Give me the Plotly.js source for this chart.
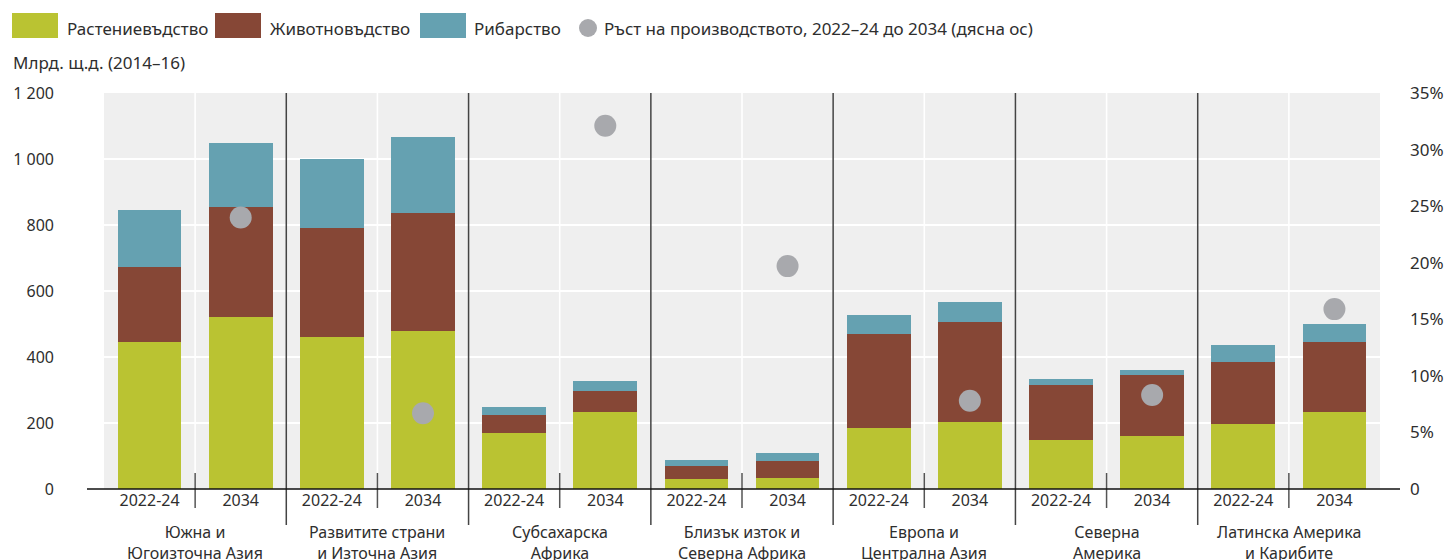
<!DOCTYPE html>
<html>
<head>
<meta charset="utf-8">
<script src="https://cdn.plot.ly/plotly-3.0.1.min.js"></script>
<style>html,body{margin:0;padding:0;background:#fff;}#chart{width:1448px;height:560px;}</style>
</head>
<body>
<div id="chart"></div>
<script>
// ---- data ----
const regions = [
  "Южна и<br>Югоизточна Азия",
  "Развитите страни<br>и Източна Азия",
  "Субсахарска<br>Африка",
  "Близък изток и<br>Северна Африка",
  "Европа и<br>Централна Азия",
  "Северна<br>Америка",
  "Латинска Америка<br>и Карибите"
];
const periods = ["2022-24", "2034"];
// billion USD (2014-16), order: region1 2022-24, region1 2034, region2 2022-24, ...
const crops     = [444, 520, 460, 480, 171, 232, 29, 32, 186, 202, 147, 162, 198, 232];
const livestock = [230, 336, 332, 355,  52,  66, 42, 54, 285, 305, 169, 182, 188, 212];
const fish      = [170, 194, 208, 233,  24,  28, 18, 22,  55,  61,  18,  18,  49,  57];
// production growth 2022-24 to 2034, % (right axis)
const growth    = [24.0, 6.7, 32.1, 19.7, 7.8, 8.3, 15.9];
const yTicks    = [0, 200, 400, 600, 800, 1000, 1200];
const y2Ticks   = [0, 5, 10, 15, 20, 25, 30, 35];
const y2Labels  = ["0", "5%", "10%", "15%", "20%", "25%", "30%", "35%"];
const seriesNames = ["Растениевъдство", "Животновъдство", "Рибарство",
                     "Ръст на производството, 2022–24 до 2034 (дясна ос)"];
const yUnit = "Млрд. щ.д. (2014–16)";

// ---- styling ----
const COLORS = {crops: "#BAC332", livestock: "#864736", fish: "#65A1B1", dot: "#A8A9AD"};
const FONT = "Noto Sans, Open Sans, sans-serif";
const TXT = "#2e2e2e";
const W = 1448, H = 560;
const M = {l: 104, r: 68, t: 93, b: 71};
const PW = W - M.l - M.r, PH = H - M.t - M.b;
const px = v => (v - M.l) / PW;          // pixel x -> paper
const py = v => (H - M.b - v) / PH;      // pixel y -> paper

const xPos = [], xLabels = [];
regions.forEach((r, i) => periods.forEach((p, j) => { xPos.push(i * periods.length + j); xLabels.push(p); }));
const dotX = regions.map((r, i) => i * periods.length + 1);

const barCommon = {type: "bar", x: xPos, width: 0.70, showlegend: false, hoverinfo: "y"};
const traces = [
  Object.assign({}, barCommon, {name: seriesNames[0], y: crops, marker: {color: COLORS.crops}}),
  Object.assign({}, barCommon, {name: seriesNames[1], y: livestock, marker: {color: COLORS.livestock}}),
  Object.assign({}, barCommon, {name: seriesNames[2], y: fish, marker: {color: COLORS.fish}}),
  {type: "scatter", mode: "markers", name: seriesNames[3], x: dotX, y: growth, yaxis: "y2",
   showlegend: false, marker: {color: COLORS.dot, size: 22}}
];

const shapes = [];
const annotations = [];
const nGroups = regions.length;
// white mid-group separators + short dark ticks
for (let i = 0; i < nGroups; i++) {
  const xm = i * 2 + 0.5;
  shapes.push({type: "line", xref: "x", yref: "paper", x0: xm, x1: xm, y0: 0, y1: 1,
               line: {color: "#ffffff", width: 1.6}, layer: "below"});
  shapes.push({type: "line", xref: "x", yref: "paper", x0: xm, x1: xm, y0: py(508), y1: py(473),
               line: {color: "#555555", width: 1.5}});
  annotations.push({xref: "x", yref: "paper", x: xm, y: py(519), yanchor: "top", xanchor: "center",
                    text: regions[i], showarrow: false, align: "center",
                    font: {family: FONT, size: 16, color: TXT}});
}
// group separators
for (let i = 1; i < nGroups; i++) {
  const xs = i * 2 - 0.5;
  shapes.push({type: "line", xref: "x", yref: "paper", x0: xs, x1: xs, y0: py(525), y1: 1,
               line: {color: "#444444", width: 1.5}});
}
// baseline
shapes.push({type: "line", xref: "paper", yref: "paper", x0: px(87), x1: px(1400), y0: 0, y1: 0,
             line: {color: "#111111", width: 1.5}});

// custom legend
const sq = [[12, 58], [215, 261], [420, 466]];
const sqColors = [COLORS.crops, COLORS.livestock, COLORS.fish];
const txtX = [65, 268, 472, 602];
sq.forEach((s, i) => {
  shapes.push({type: "rect", xref: "paper", yref: "paper", x0: px(s[0]), x1: px(s[1]), y0: py(38), y1: py(13),
               fillcolor: sqColors[i], line: {width: 0}});
});
shapes.push({type: "circle", xref: "paper", yref: "paper", x0: px(579), x1: px(597), y0: py(37), y1: py(19),
             fillcolor: COLORS.dot, line: {width: 0}});
seriesNames.forEach((n, i) => {
  annotations.push({xref: "paper", yref: "paper", x: px(txtX[i]), y: py(28), xanchor: "left", yanchor: "middle",
                    text: n, showarrow: false, font: {family: FONT, size: 17, color: TXT}});
});
annotations.push({xref: "paper", yref: "paper", x: px(11), y: py(62), xanchor: "left", yanchor: "middle",
                  text: yUnit, showarrow: false, font: {family: FONT, size: 17, color: TXT}});

const layout = {
  width: W, height: H,
  margin: M,
  paper_bgcolor: "#ffffff",
  plot_bgcolor: "#EFEFEF",
  barmode: "stack",
  separators: ", ",
  font: {family: FONT, size: 16, color: TXT},
  showlegend: false,
  xaxis: {range: [-0.5, 13.5], tickvals: xPos, ticktext: xLabels, showgrid: false, zeroline: false,
          showline: false, ticks: "", tickfont: {size: 16, color: TXT}, fixedrange: true},
  yaxis: {range: [0, 1200], tickvals: yTicks, separatethousands: true, showgrid: true, gridcolor: "#ffffff",
          gridwidth: 1.6, zeroline: false, showline: false, ticks: "", ticklabelstandoff: 49,
          tickfont: {size: 16, color: TXT}},
  yaxis2: {overlaying: "y", side: "right", range: [0, 35], tickvals: y2Ticks, ticktext: y2Labels,
           showgrid: false, zeroline: false, showline: false, ticks: "", ticklabelstandoff: 29,
           tickfont: {size: 17, color: TXT}},
  shapes: shapes,
  annotations: annotations
};

Plotly.newPlot("chart", traces, layout, {displayModeBar: false, staticPlot: true});
</script>
</body>
</html>
